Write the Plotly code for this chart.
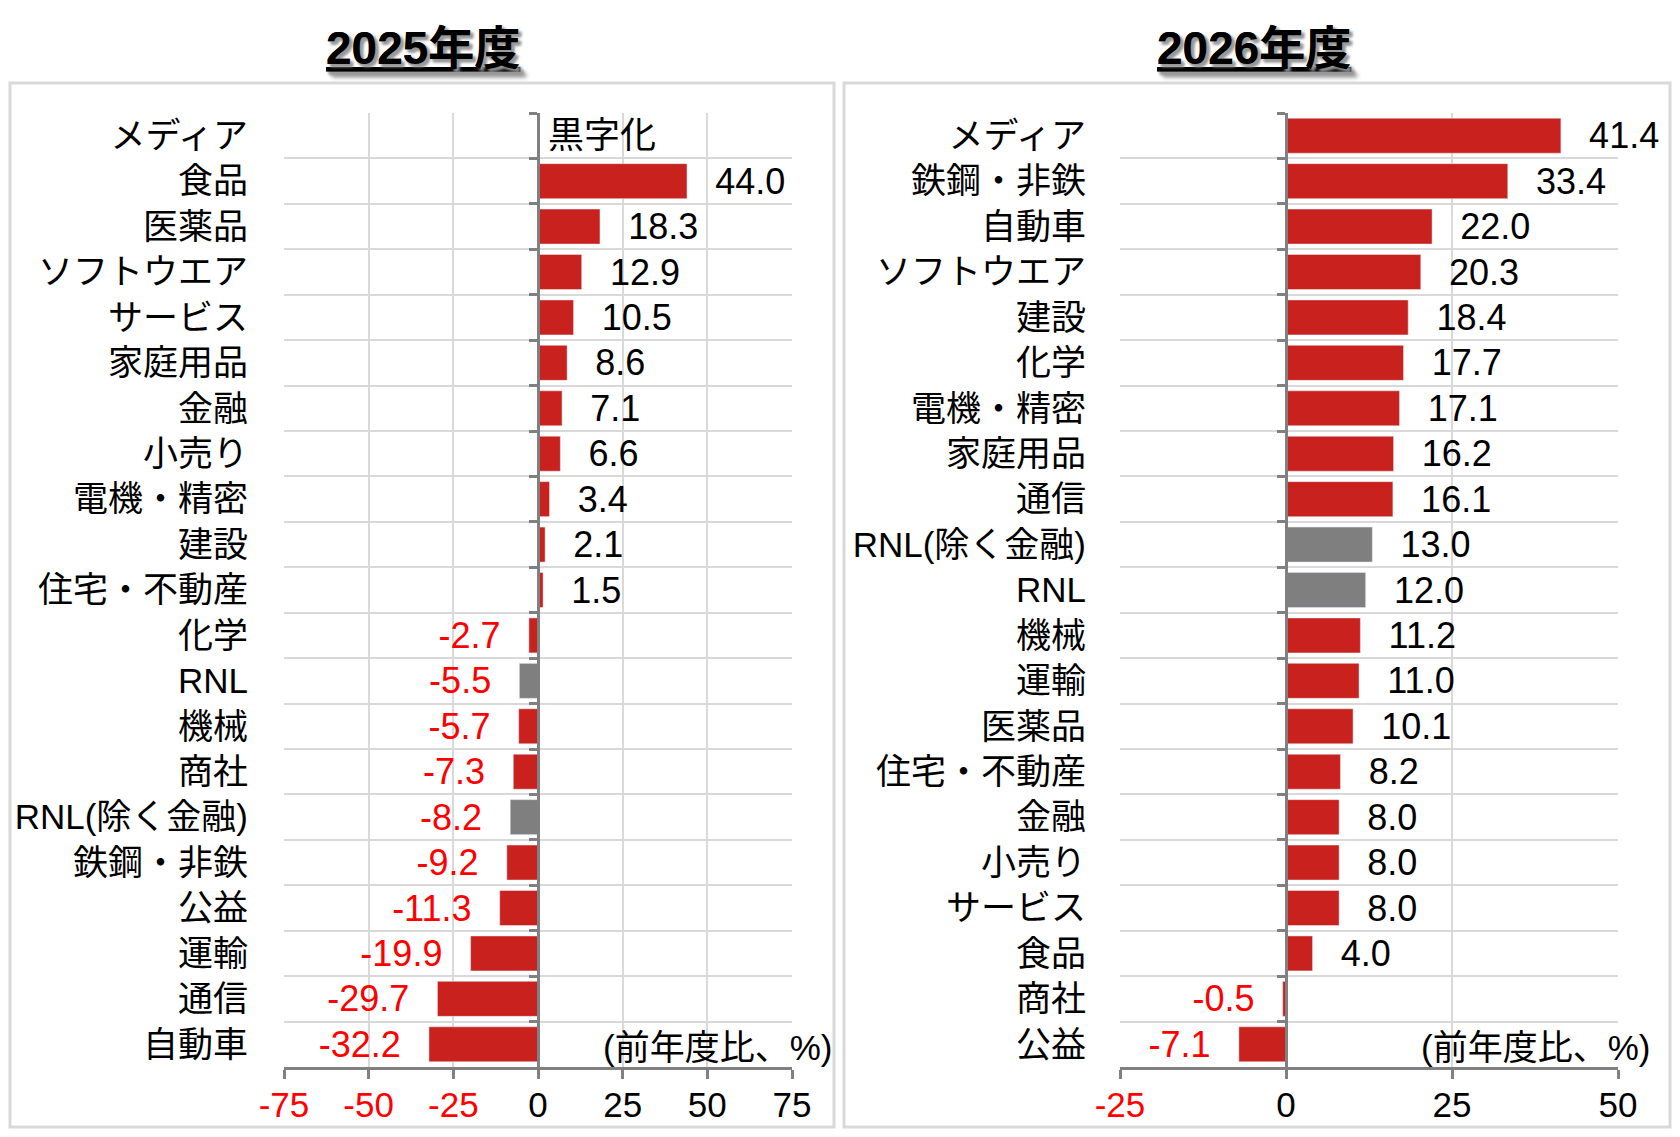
import plotly.graph_objects as go

# 2025年度 (前年度比、%)
cats_2025 = ["メディア", "食品", "医薬品", "ソフトウエア", "サービス", "家庭用品", "金融", "小売り",
             "電機・精密", "建設", "住宅・不動産", "化学", "RNL", "機械", "商社", "RNL(除く金融)",
             "鉄鋼・非鉄", "公益", "運輸", "通信", "自動車"]
vals_2025 = [None, 44.0, 18.3, 12.9, 10.5, 8.6, 7.1, 6.6, 3.4, 2.1, 1.5, -2.7, -5.5, -5.7, -7.3, -8.2,
             -9.2, -11.3, -19.9, -29.7, -32.2]

# 2026年度 (前年度比、%)
cats_2026 = ["メディア", "鉄鋼・非鉄", "自動車", "ソフトウエア", "建設", "化学", "電機・精密", "家庭用品",
             "通信", "RNL(除く金融)", "RNL", "機械", "運輸", "医薬品", "住宅・不動産", "金融", "小売り",
             "サービス", "食品", "商社", "公益"]
vals_2026 = [41.4, 33.4, 22.0, 20.3, 18.4, 17.7, 17.1, 16.2, 16.1, 13.0, 12.0, 11.2, 11.0, 10.1, 8.2,
             8.0, 8.0, 8.0, 4.0, -0.5, -7.1]

ticks_2025 = [-75, -50, -25, 0, 25, 50, 75]
ticks_2026 = [-25, 0, 25, 50]

RED_BAR = "#C9211E"
GRAY_BAR = "#7F7F7F"
RED_TXT = "#FF0000"
GRID = "#D9D9D9"
AXIS = "#808080"
FONT = "Liberation Sans, Arial, Noto Sans CJK JP"

# the page body adds an 8px margin, so the figure is 16px smaller than the window
OFF = 8
W, H = 1680 - 2 * OFF, 1137 - 2 * OFF


def px_x(x):
    return (x - OFF) / W


def px_y(y):
    return 1 - (y - OFF) / H


def bar_colors(cats):
    return [GRAY_BAR if c.startswith("RNL") else RED_BAR for c in cats]


def bar_text(vals):
    out = []
    for v in vals:
        if v is None:
            out.append("")
        elif v < 0:
            out.append(f"{v:.1f}\u2002\u2009")
        else:
            out.append(f"\u2002\u2009{v:.1f}")
    return out


def text_colors(vals):
    return [RED_TXT if (v is not None and v < 0) else "black" for v in vals]


def tick_text(ticks):
    return [f'<span style="color:{RED_TXT}">{t}</span>' if t < 0 else str(t) for t in ticks]


fig = go.Figure()
fig.add_trace(go.Bar(y=cats_2025, x=vals_2025, orientation="h", xaxis="x", yaxis="y",
                     marker=dict(color=bar_colors(cats_2025)),
                     text=bar_text(vals_2025), textposition="outside",
                     outsidetextfont=dict(color=text_colors(vals_2025), size=36, family=FONT),
                     constraintext="none", cliponaxis=False, hoverinfo="x+y"))
fig.add_trace(go.Bar(y=cats_2026, x=vals_2026, orientation="h", xaxis="x2", yaxis="y2",
                     marker=dict(color=bar_colors(cats_2026)),
                     text=bar_text(vals_2026), textposition="outside",
                     outsidetextfont=dict(color=text_colors(vals_2026), size=36, family=FONT),
                     constraintext="none", cliponaxis=False, hoverinfo="x+y"))

dom1 = [px_x(284), px_x(792)]
dom2 = [px_x(1120), px_x(1618)]
ydom = [px_y(1067), px_y(113)]
rng1 = [-75, 75]
rng2 = [-25, 50]


def zero_pos(dom, rng):
    return dom[0] + (0 - rng[0]) / (rng[1] - rng[0]) * (dom[1] - dom[0])


xcommon = dict(showgrid=True, gridcolor=GRID, gridwidth=2, zeroline=False,
               showline=True, linecolor=AXIS, linewidth=3,
               ticks="outside", ticklen=9, tickwidth=3, tickcolor=AXIS,
               tickfont=dict(size=35, family=FONT, color="black"), ticklabelstandoff=-4,
               automargin=False, fixedrange=True)
ycommon = dict(type="category", autorange="reversed", tickson="boundaries",
               showgrid=True, gridcolor=GRID, gridwidth=2, zeroline=False,
               showline=True, linecolor=AXIS, linewidth=3,
               ticks="outside", ticklen=8, tickwidth=3, tickcolor=AXIS,
               tickfont=dict(size=35, family=FONT, color="black"),
               anchor="free", domain=ydom, automargin=False, fixedrange=True)

fig.update_layout(
    width=W, height=H,
    margin=dict(l=0, r=0, t=0, b=0, autoexpand=False),
    paper_bgcolor="white", plot_bgcolor="white",
    showlegend=False, bargap=0.23,
    font=dict(family=FONT, color="black"),
    xaxis=dict(xcommon, domain=dom1, range=rng1, anchor="y",
               tickvals=ticks_2025, ticktext=tick_text(ticks_2025)),
    xaxis2=dict(xcommon, domain=dom2, range=rng2, anchor="y2",
                tickvals=ticks_2026, ticktext=tick_text(ticks_2026)),
    yaxis=dict(ycommon, position=zero_pos(dom1, rng1), ticklabelstandoff=282),
    yaxis2=dict(ycommon, position=zero_pos(dom2, rng2), ticklabelstandoff=192),
)

# panel frames (kept inside the drawable page area)
for x0, x1 in [(10, 834), (844, 1670)]:
    fig.add_shape(type="rect", xref="paper", yref="paper",
                  x0=px_x(x0), x1=px_x(x1), y0=px_y(1127), y1=px_y(83),
                  line=dict(color=GRID, width=3), layer="below")

# panel titles
title_font = dict(size=46, family=FONT, color="black", shadow="3px 3px 3px #999999")
fig.add_annotation(text="<b><u>2025年度</u></b>", xref="paper", yref="paper",
                   x=px_x(423), y=px_y(48), xanchor="center", yanchor="middle",
                   showarrow=False, font=title_font)
fig.add_annotation(text="<b><u>2026年度</u></b>", xref="paper", yref="paper",
                   x=px_x(1254), y=px_y(48), xanchor="center", yanchor="middle",
                   showarrow=False, font=title_font)

# メディア 2025: no bar, turned to profit
fig.add_annotation(text="黒字化", xref="x", yref="y", x=0, y=cats_2025[0],
                   xanchor="left", xshift=8, showarrow=False,
                   font=dict(size=36, family=FONT, color="black"))

# unit notes
unit_font = dict(size=35, family=FONT, color="black")
fig.add_annotation(text="(前年度比、%)", xref="paper", yref="y", x=px_x(834), y=cats_2025[-1],
                   xanchor="right", yshift=-3, showarrow=False, font=unit_font)
fig.add_annotation(text="(前年度比、%)", xref="paper", yref="y2", x=px_x(1652), y=cats_2026[-1],
                   xanchor="right", yshift=-3, showarrow=False, font=unit_font)

fig.write_html("out.html")
